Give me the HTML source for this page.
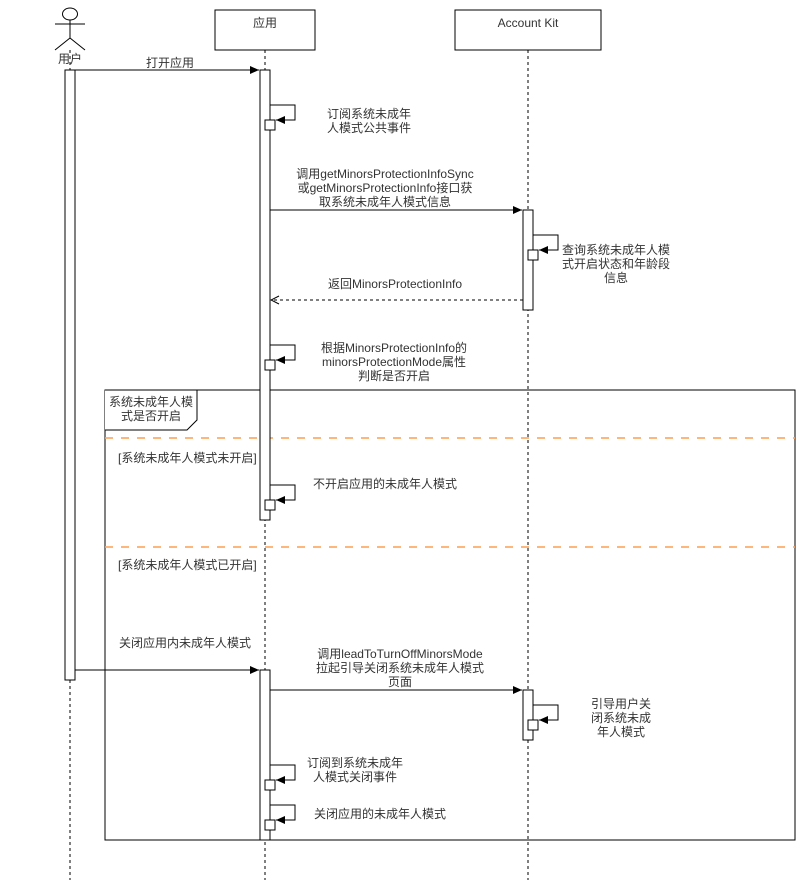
<!DOCTYPE html>
<html><head><meta charset="utf-8"><style>
body{margin:0;background:#fff}
svg text{font-family:"Liberation Sans","Noto Sans CJK SC",sans-serif;font-size:12px;fill:#333}
</style></head><body>
<svg width="806" height="891" xmlns="http://www.w3.org/2000/svg">
<defs>
<marker id="a" markerWidth="10" markerHeight="10" refX="9" refY="5" orient="auto" markerUnits="userSpaceOnUse"><path d="M0,1 L9,5 L0,9 Z" fill="#000"/></marker>
<marker id="o" markerWidth="10" markerHeight="10" refX="9" refY="5" orient="auto" markerUnits="userSpaceOnUse"><path d="M1,1 L9,5 L1,9" fill="none" stroke="#000"/></marker>
</defs>
<g stroke="#000" fill="none">
<line x1="70" y1="50" x2="70" y2="880" stroke-dasharray="3,3"/>
<line x1="265" y1="50" x2="265" y2="880" stroke-dasharray="3,3"/>
<line x1="528" y1="50" x2="528" y2="880" stroke-dasharray="3,3"/>
<ellipse cx="70" cy="14" rx="7.5" ry="6" fill="#fff"/>
<line x1="70" y1="20" x2="70" y2="38"/>
<line x1="55" y1="24" x2="85" y2="24"/>
<line x1="70" y1="38" x2="55" y2="50"/>
<line x1="70" y1="38" x2="85" y2="50"/>
<rect x="215" y="10" width="100" height="40" fill="#fff"/>
<rect x="455" y="10" width="146" height="40" fill="#fff"/>
<rect x="105" y="390" width="690" height="450"/>
<path d="M105,390 H197 V420 L187,430 H105" fill="#fff"/>
<line x1="105" y1="438" x2="795" y2="438" stroke="#FFA45C" stroke-width="2" stroke-dasharray="8,8" opacity="0.8"/>
<line x1="105" y1="547" x2="795" y2="547" stroke="#FFA45C" stroke-width="2" stroke-dasharray="8,8" opacity="0.8"/>
<rect x="65" y="70" width="10" height="610" fill="#fff"/>
<rect x="260" y="70" width="10" height="450" fill="#fff"/>
<rect x="260" y="670" width="10" height="170" fill="#fff"/>
<rect x="523" y="210" width="10" height="100" fill="#fff"/>
<rect x="523" y="690" width="10" height="50" fill="#fff"/>
<line x1="75" y1="70" x2="259" y2="70" marker-end="url(#a)"/>
<line x1="270" y1="210" x2="522" y2="210" marker-end="url(#a)"/>
<line x1="523" y1="300" x2="271" y2="300" stroke-dasharray="3,3" marker-end="url(#o)"/>
<line x1="75" y1="670" x2="259" y2="670" marker-end="url(#a)"/>
<line x1="270" y1="690" x2="522" y2="690" marker-end="url(#a)"/>
<path d="M270,105 H295 V120 H276" marker-end="url(#a)"/><rect x="265" y="120" width="10" height="10" fill="#fff"/>
<path d="M270,345 H295 V360 H276" marker-end="url(#a)"/><rect x="265" y="360" width="10" height="10" fill="#fff"/>
<path d="M270,485 H295 V500 H276" marker-end="url(#a)"/><rect x="265" y="500" width="10" height="10" fill="#fff"/>
<path d="M533,235 H558 V250 H539" marker-end="url(#a)"/><rect x="528" y="250" width="10" height="10" fill="#fff"/>
<path d="M533,705 H558 V720 H539" marker-end="url(#a)"/><rect x="528" y="720" width="10" height="10" fill="#fff"/>
<path d="M270,765 H295 V780 H276" marker-end="url(#a)"/><rect x="265" y="780" width="10" height="10" fill="#fff"/>
<path d="M270,805 H295 V820 H276" marker-end="url(#a)"/><rect x="265" y="820" width="10" height="10" fill="#fff"/>
</g>
<text x="70" y="63" text-anchor="middle">用户</text>
<text x="265" y="27" text-anchor="middle">应用</text>
<text x="528" y="27" text-anchor="middle">Account Kit</text>
<text x="170" y="67" text-anchor="middle">打开应用</text>
<text x="369" y="118" text-anchor="middle">订阅系统未成年</text>
<text x="369" y="132" text-anchor="middle">人模式公共事件</text>
<text x="385" y="178" text-anchor="middle">调用getMinorsProtectionInfoSync</text>
<text x="385" y="192" text-anchor="middle">或getMinorsProtectionInfo接口获</text>
<text x="385" y="206" text-anchor="middle">取系统未成年人模式信息</text>
<text x="616" y="254" text-anchor="middle">查询系统未成年人模</text>
<text x="616" y="268" text-anchor="middle">式开启状态和年龄段</text>
<text x="616" y="282" text-anchor="middle">信息</text>
<text x="395" y="288" text-anchor="middle">返回MinorsProtectionInfo</text>
<text x="394" y="352" text-anchor="middle">根据MinorsProtectionInfo的</text>
<text x="394" y="366" text-anchor="middle">minorsProtectionMode属性</text>
<text x="394" y="380" text-anchor="middle">判断是否开启</text>
<text x="151" y="406" text-anchor="middle">系统未成年人模</text>
<text x="151" y="420" text-anchor="middle">式是否开启</text>
<text x="118" y="462">[系统未成年人模式未开启]</text>
<text x="385" y="488" text-anchor="middle">不开启应用的未成年人模式</text>
<text x="118" y="569">[系统未成年人模式已开启]</text>
<text x="185" y="647" text-anchor="middle">关闭应用内未成年人模式</text>
<text x="400" y="658" text-anchor="middle">调用leadToTurnOffMinorsMode</text>
<text x="400" y="672" text-anchor="middle">拉起引导关闭系统未成年人模式</text>
<text x="400" y="686" text-anchor="middle">页面</text>
<text x="621" y="708" text-anchor="middle">引导用户关</text>
<text x="621" y="722" text-anchor="middle">闭系统未成</text>
<text x="621" y="736" text-anchor="middle">年人模式</text>
<text x="355" y="767" text-anchor="middle">订阅到系统未成年</text>
<text x="355" y="781" text-anchor="middle">人模式关闭事件</text>
<text x="380" y="818" text-anchor="middle">关闭应用的未成年人模式</text>
</svg>
</body></html>
